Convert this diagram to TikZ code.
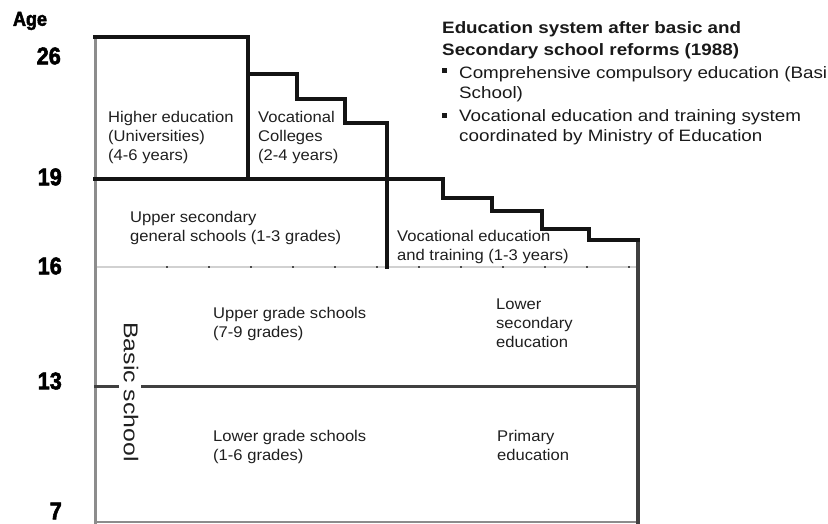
\documentclass[tikz,border=0pt]{standalone}
\usepackage{fontspec}
\setmainfont{Liberation Sans}
\newfontfamily\bodyfont[FakeStretch=1.07]{Liberation Sans}
\newfontfamily\titlefont[FakeStretch=1.14]{Liberation Sans}
\newfontfamily\spinefont[FakeStretch=1.24]{Liberation Sans}
\newfontfamily\agefont[FakeBold=2.5, FakeStretch=0.9]{Liberation Sans Bold}
\tikzset{
  blk/.style={line width=3.5pt, draw=black!92, line join=miter, line cap=rect},
  dgr/.style={line width=3pt, draw=black!75, line cap=rect},
  lgr/.style={line width=3pt, draw=black!45, line cap=rect},
  body/.style={font=\bodyfont\fontsize{15.5}{19}\selectfont, align=left, anchor=north west, inner sep=0pt, text=black!88},
  ttl/.style={font=\titlefont\fontsize{16.5}{22}\selectfont, align=left, anchor=north west, inner sep=0pt, text=black!90},
  agelab/.style={font=\agefont\fontsize{24}{24}\selectfont, anchor=east, inner sep=0pt},
  bullet/.style={fill=black!90, minimum size=5pt, inner sep=0pt, draw=none},
}
\begin{document}
\begin{tikzpicture}[x=1pt,y=-1pt]
\useasboundingbox (0,0) rectangle (828,524);
% faint 16 line
\draw[draw=black!18, line width=1.2pt] (95,267) -- (638,267);
\draw[draw=black!70, line width=2pt, dash pattern=on 2pt off 40pt] (166,267) -- (638,267);
% grey frame lines
\draw[lgr] (95,37) -- (95,522);
\draw[lgr, line width=2.5pt] (95,522) -- (638,522);
\draw[dgr] (95,386) -- (117,386);
\draw[dgr] (142,386) -- (638,386);
\draw[dgr, line width=3.5pt] (638,240) -- (638,522);
% black stair lines
\draw[blk] (95,37) -- (248,37) -- (248,179);
\draw[blk] (248,74) -- (297,74) -- (297,99) -- (345,99) -- (345,123) -- (387,123) -- (387,267);
\draw[blk] (95,179) -- (443,179) -- (443,198) -- (492,198) -- (492,211) -- (542,211) -- (542,229) -- (589,229) -- (589,240) -- (638,240);
% age labels
\node[font=\agefont\fontsize{20}{20}\selectfont, inner sep=0pt] (age) at (30,21) {Age};
\node[agelab] (a26) at (61,56) {26};
\node[agelab] (a19) at (62,177) {19};
\node[agelab] (a16) at (62,266) {16};
\node[agelab] (a13) at (62,381) {13};
\node[agelab] (a7) at (62,511) {7};
% title and bullets
\node[ttl, font=\titlefont\bfseries\fontsize{16.5}{22}\selectfont] (title) at (442,21) {Education system after basic and\\Secondary school reforms (1988)};
\node[bullet] (b1) at (444.5,70.5) {};
\node[ttl, font=\titlefont\fontsize{16.5}{20}\selectfont] (t1) at (459,66) {Comprehensive compulsory education (Basi\\School)};
\node[bullet] (b2) at (444.5,115.5) {};
\node[ttl, font=\titlefont\fontsize{16.5}{20}\selectfont] (t2) at (459,109) {Vocational education and training system\\coordinated by Ministry of Education};
% box texts
\node[body] (higher) at (108,111.5) {Higher education\\(Universities)\\(4-6 years)};
\node[body] (colleges) at (258,111.5) {Vocational\\Colleges\\(2-4 years)};
\node[body] (uppersec) at (130,211.5) {Upper secondary\\general schools (1-3 grades)};
\node[body] (voced) at (397,230.5) {Vocational education\\and training (1-3 years)};
\node[body] (lowersec) at (496,298.5) {Lower\\secondary\\education};
\node[body] (uppergr) at (213,307.5) {Upper grade schools\\(7-9 grades)};
\node[body] (lowergr) at (213,430.5) {Lower grade schools\\(1-6 grades)};
\node[body] (primary) at (497,430.5) {Primary\\education};
\node[font=\spinefont\fontsize{20}{20}\selectfont, rotate=-90, inner sep=0pt, text=black!88] (basic) at (131,392) {Basic school};
\end{tikzpicture}
\end{document}
